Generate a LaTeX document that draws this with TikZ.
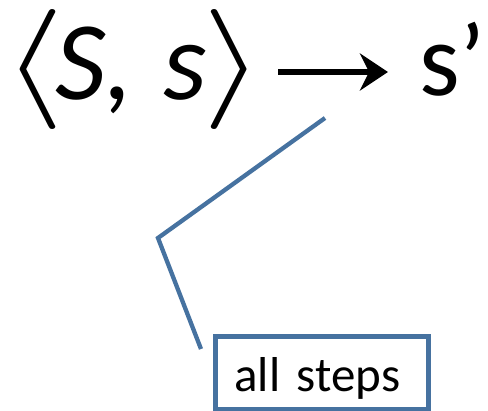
\documentclass[tikz,border=0pt]{standalone}
\usepackage{graphicx}
\usepackage{fontspec}
\setmainfont{Carlito}
\usetikzlibrary{arrows.meta}
\definecolor{callblue}{RGB}{70,114,160}
\tikzset{
  bigtext/.style={inner sep=0pt, font=\fontsize{112pt}{112pt}\selectfont},
  restext/.style={inner sep=0pt, font=\fontsize{104pt}{104pt}\selectfont},
  bracketstyle/.style={inner sep=0pt, font=\fontsize{10pt}{10pt}\selectfont},
  maparrow/.style={line width=6.5pt, -{Stealth[length=28pt,width=37pt,inset=9pt]}},
  calloutline/.style={draw=callblue, line width=4.3pt, line join=miter},
  calloutbox/.style={draw=callblue, line width=4.5pt, fill=white,
    minimum width=213pt, minimum height=72.5pt, inner xsep=19pt, inner ysep=0pt,
    text width=175pt, align=left, text height=48.5pt, text depth=10pt,
    font=\fontsize{49pt}{49pt}\selectfont}
}
\begin{document}
\begin{tikzpicture}[x=1pt,y=-1pt]
\useasboundingbox (0,0) rectangle (488,411);
\node[bracketstyle, anchor=base] (lb) at (34,100) {\makebox[32pt]{\scalebox{16}[12]{$\langle$}}};
\node[bigtext, anchor=base west] (tuple) at (55,100) {\textit{S,\hspace{30pt}s}};
\node[bracketstyle, anchor=base] (rb) at (234,100) {\makebox[32pt]{\scalebox{16}[12]{$\rangle$}}};
\node[restext, anchor=base west] (res) at (419,96) {s’};
\coordinate (a1) at (278,72);
\coordinate (a2) at (388,72);
\draw[maparrow] (a1) -- (a2);
\coordinate (c1) at (325,118);
\coordinate (c2) at (158,238);
\coordinate (c3) at (201,349);
\draw[calloutline] (c1) -- (c2) -- (c3);
\node[calloutbox] (box) at (322,372.75) {all steps};
\end{tikzpicture}
\end{document}
